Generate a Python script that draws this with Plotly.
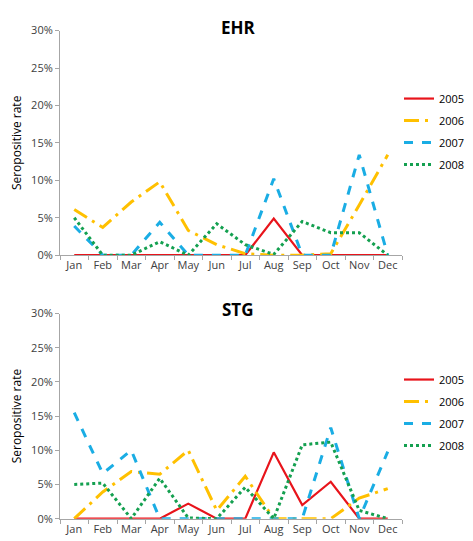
import plotly.graph_objects as go

months = ["Jan", "Feb", "Mar", "Apr", "May", "Jun", "Jul", "Aug", "Sep", "Oct", "Nov", "Dec"]
years = ["2005", "2006", "2007", "2008"]

ehr_2005 = [0, 0, 0, 0, 0, 0, 0, 4.9, 0, 0, 0, 0]
ehr_2006 = [6.1, 3.7, 7.1, 9.8, 3.3, 1.4, 0.2, 0, 0, 0.2, 6.7, 13.4]
ehr_2007 = [3.9, 0, 0, 4.4, 0, 0, 0, 10.2, 0, 0, 13.4, 0]
ehr_2008 = [5.0, 0, 0, 1.8, 0, 4.2, 1.4, 0.1, 4.5, 3.0, 3.0, 0]

stg_2005 = [0, 0, 0, 0, 2.2, 0, 0, 9.7, 2.0, 5.4, 0, 0]
stg_2006 = [0, 3.9, 6.9, 6.5, 10.0, 1.2, 6.2, 0, 0, 0, 3.0, 4.4]
stg_2007 = [15.5, 6.6, 10.0, 0, 0, 0, 0, 0, 0, 13.3, 0, 9.8]
stg_2008 = [5.0, 5.2, 0, 5.9, 0.1, 0, 4.6, 0, 10.8, 11.2, 1.2, 0]

ehr = [ehr_2005, ehr_2006, ehr_2007, ehr_2008]
stg = [stg_2005, stg_2006, stg_2007, stg_2008]

colors = ["#E8141B", "#FFC000", "#1AADE4", "#14A050"]
dashes = ["solid", "longdashdot", "dash", "dot"]
widths = [2.2, 3, 3, 3]

W, H = 473, 541
FONT = "Open Sans"

fig = go.Figure()
for i, y in enumerate(years):
    fig.add_trace(go.Scatter(
        x=months, y=[v / 100 for v in ehr[i]], mode="lines", name=y,
        line=dict(color=colors[i], dash=dashes[i], width=widths[i]),
        xaxis="x", yaxis="y", legend="legend", legendgroup="e" + y))
for i, y in enumerate(years):
    fig.add_trace(go.Scatter(
        x=months, y=[v / 100 for v in stg[i]], mode="lines", name=y,
        line=dict(color=colors[i], dash=dashes[i], width=widths[i]),
        xaxis="x2", yaxis="y2", legend="legend2", legendgroup="s" + y))

xdom = [52 / W, 394 / W]
top_dom = [1 - 246 / H, 1 - 15 / H]
bot_dom = [1 - 517 / H, 1 - 306 / H]

axis_common_x = dict(
    type="category", tickson="boundaries", ticks="outside", ticklen=4, tickangle=0,
    tickcolor="#A6A6A6", showline=True, linecolor="#A6A6A6", linewidth=1,
    showgrid=False, zeroline=False, tickfont=dict(size=11, color="#404040", family=FONT),
    range=[-0.5, 11.5], fixedrange=True)
axis_common_y = dict(
    range=[0, 0.30], tickvals=[0, 0.05, 0.10, 0.15, 0.20, 0.25, 0.30],
    tickformat=".0%", ticks="outside", ticklen=4, tickcolor="#A6A6A6",
    showline=True, linecolor="#A6A6A6", linewidth=1, showgrid=False, zeroline=False,
    tickfont=dict(size=11, color="#404040", family=FONT),
    title=dict(text="Seropositive rate", font=dict(size=12, color="#000000", family=FONT), standoff=6))

legend_common = dict(
    font=dict(size=11, color="#000000", family=FONT), bgcolor="rgba(0,0,0,0)",
    xanchor="left", yanchor="top", itemwidth=30, tracegroupgap=3, traceorder="grouped")

fig.update_layout(
    width=W, height=H, margin=dict(l=0, r=0, t=0, b=0),
    paper_bgcolor="white", plot_bgcolor="white",
    xaxis=dict(domain=xdom, anchor="y", **axis_common_x),
    yaxis=dict(domain=top_dom, anchor="x", **axis_common_y),
    xaxis2=dict(domain=xdom, anchor="y2", **axis_common_x),
    yaxis2=dict(domain=bot_dom, anchor="x2", **axis_common_y),
    legend=dict(x=391 / W, y=1 - 70 / H, **legend_common),
    legend2=dict(x=391 / W, y=1 - 359 / H, **legend_common),
    annotations=[
        dict(text="<b>EHR</b>", x=230 / W, y=1 - 12 / H, xref="paper", yref="paper",
             showarrow=False, font=dict(size=17, family=FONT, color="#000000"), yanchor="middle"),
        dict(text="<b>STG</b>", x=230 / W, y=1 - 302 / H, xref="paper", yref="paper",
             showarrow=False, font=dict(size=17, family=FONT, color="#000000"), yanchor="middle"),
    ],
)

fig.write_html("out.html")
